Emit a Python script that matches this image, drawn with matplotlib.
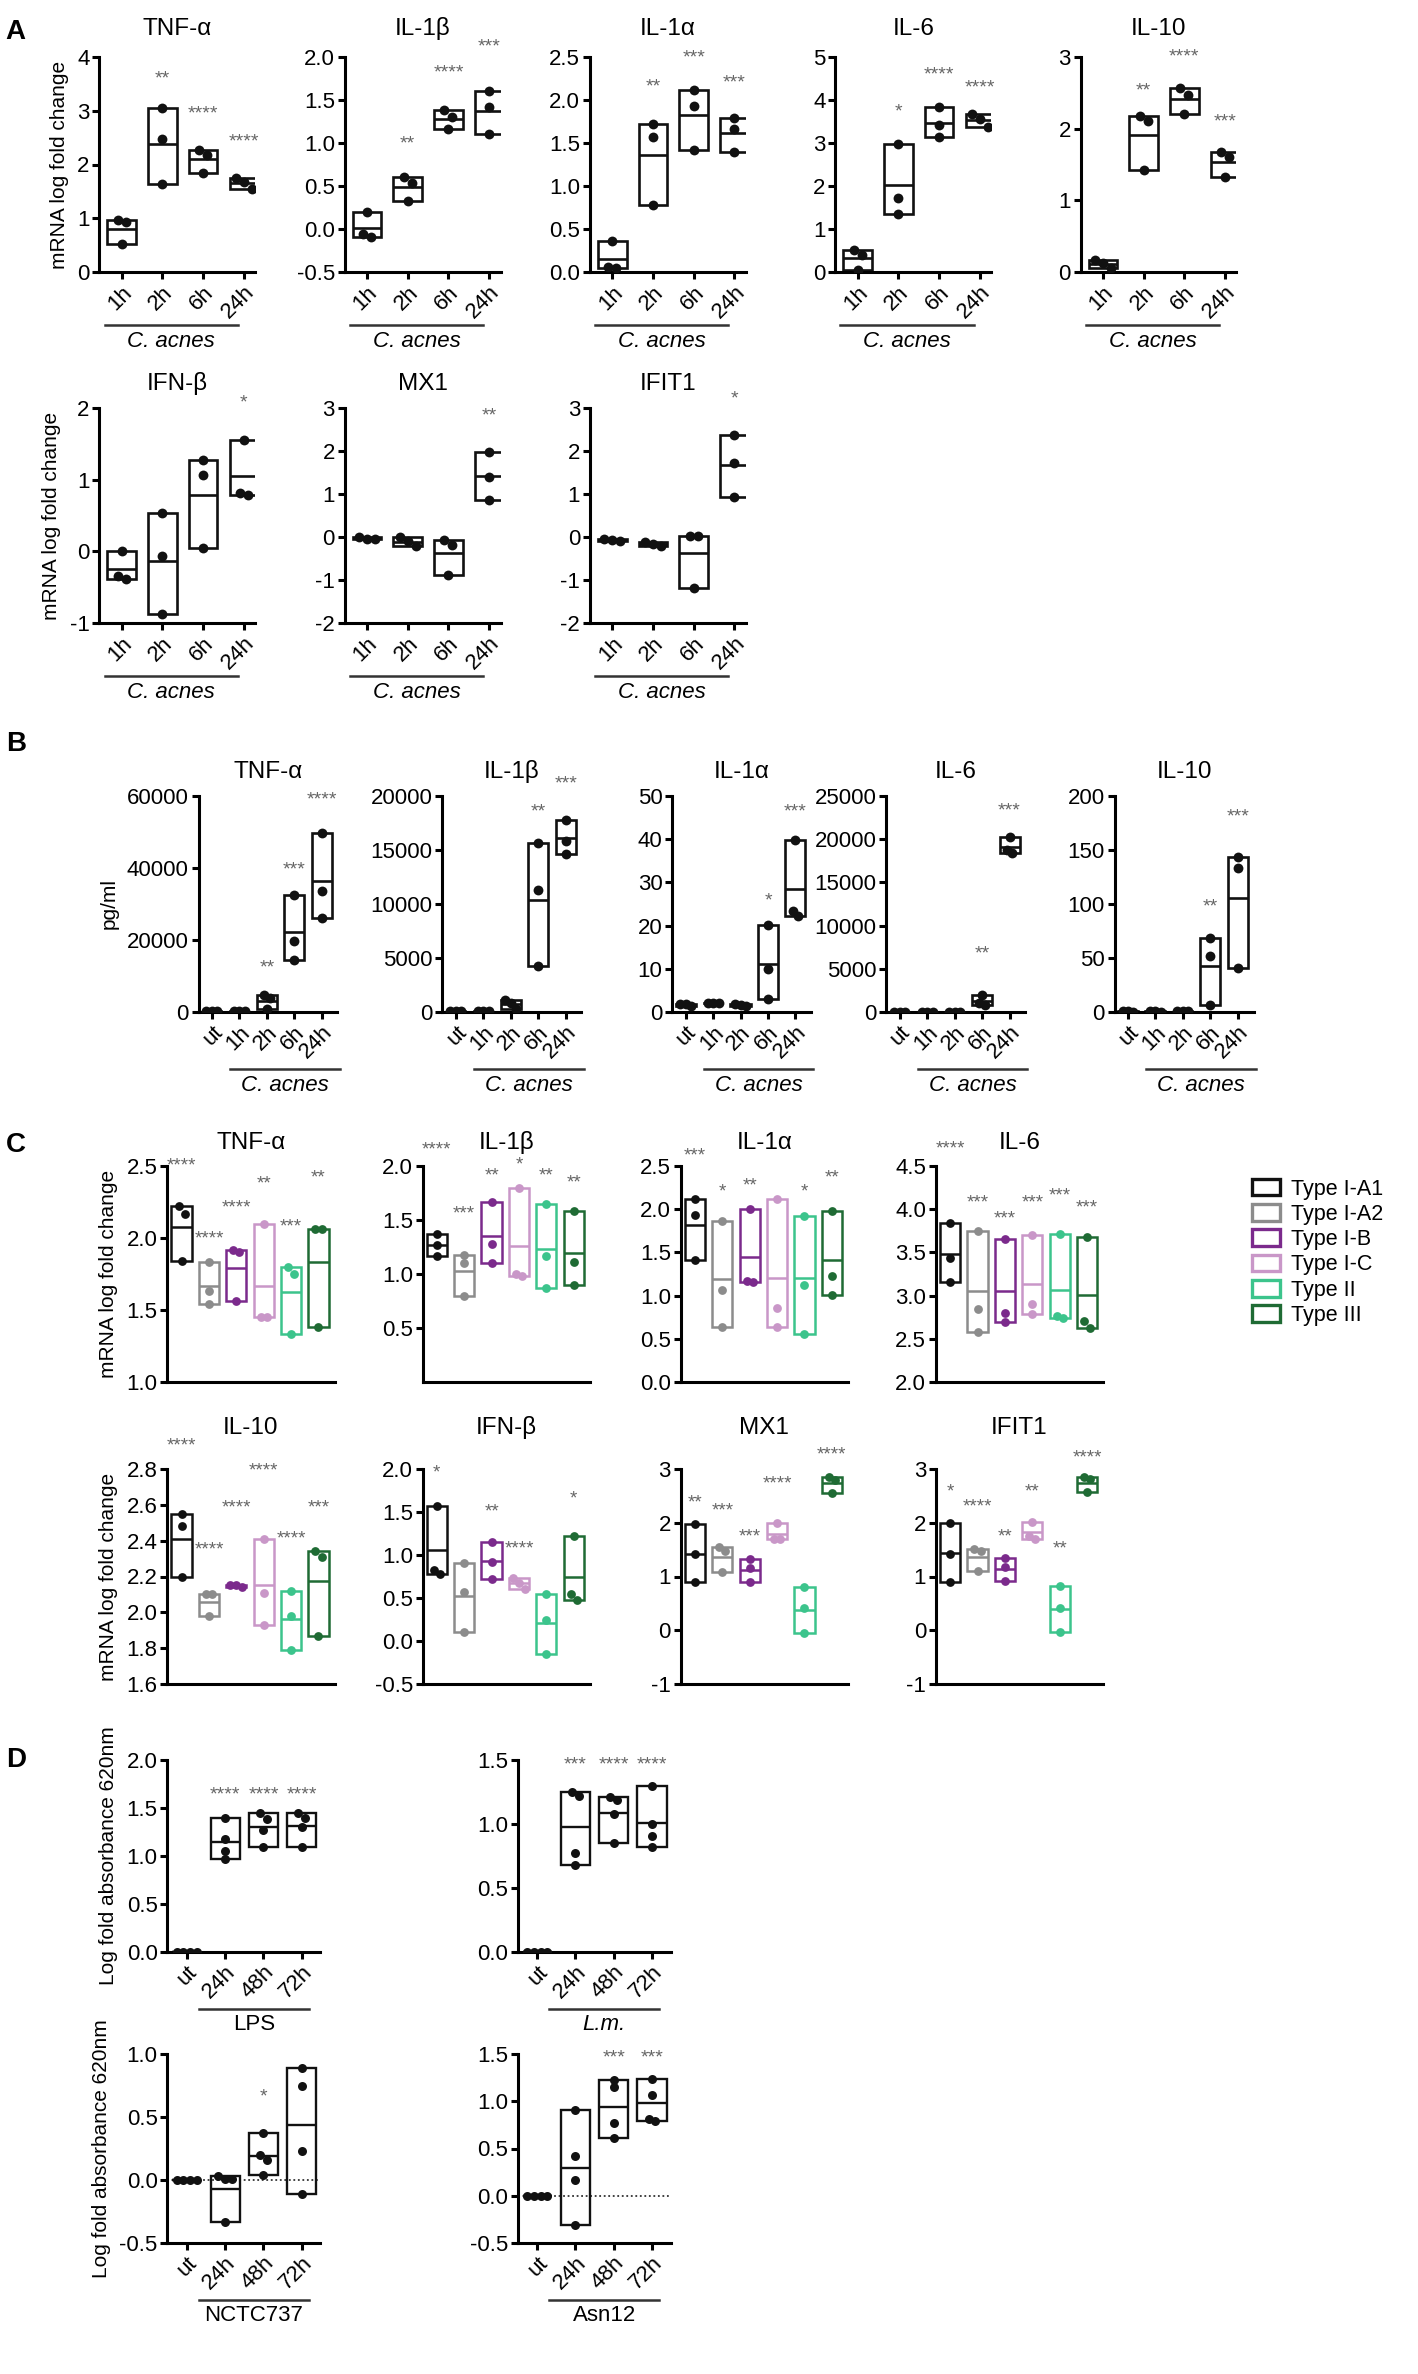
import numpy as np
import matplotlib
matplotlib.use('Agg')
import matplotlib.pyplot as plt
from matplotlib.patches import Rectangle
import matplotlib.transforms as mtrans

plt.rcParams['font.family'] = ['Liberation Sans Narrow', 'Liberation Sans', 'DejaVu Sans']

# ------------------------------------------------------------------ DATA
# Panel A : mRNA log fold change, C. acnes time course
a_times = ['1h', '2h', '6h', '24h']
a_tnf = [[0.96, 0.93, 0.52], [3.06, 2.47, 1.64], [2.27, 2.18, 1.85], [1.74, 1.68, 1.54]]
a_tnf_stars = ['', '**', '****', '****']
a_tnf_stary = [0, 3.6, 2.94, 2.41]
a_il1b = [[0.20, -0.06, -0.09], [0.60, 0.53, 0.33], [1.38, 1.30, 1.16], [1.60, 1.42, 1.10]]
a_il1b_stars = ['', '**', '****', '***']
a_il1b_stary = [0, 0.99, 1.81, 2.12]
a_il1a = [[0.36, 0.06, 0.05], [1.72, 1.57, 0.78], [2.12, 1.93, 1.42], [1.79, 1.66, 1.40]]
a_il1a_stars = ['', '**', '***', '***']
a_il1a_stary = [0, 2.15, 2.49, 2.2]
a_il6 = [[0.52, 0.39, 0.05], [2.98, 1.72, 1.34], [3.83, 3.43, 3.15], [3.67, 3.55, 3.38]]
a_il6_stars = ['', '*', '****', '****']
a_il6_stary = [0, 3.72, 4.59, 4.28]
a_il10 = [[0.17, 0.12, 0.06], [2.18, 2.11, 1.43], [2.57, 2.47, 2.20], [1.68, 1.61, 1.33]]
a_il10_stars = ['', '**', '****', '***']
a_il10_stary = [0, 2.53, 3.0, 2.1]
a_ifnb = [[0.0, -0.38, -0.35], [0.53, -0.06, -0.88], [1.27, 1.06, 0.04], [1.56, 0.81, 0.79]]
a_ifnb_stars = ['', '', '', '*']
a_ifnb_stary = [0, 0, 0, 2.07]
a_mx1 = [[0.0, -0.05, -0.04], [0.0, -0.10, -0.22], [-0.08, -0.18, -0.88], [1.97, 1.39, 0.87]]
a_mx1_stars = ['', '', '', '**']
a_mx1_stary = [0, 0, 0, 2.82]
a_ifit1 = [[-0.05, -0.08, -0.10], [-0.12, -0.17, -0.22], [0.02, 0.02, -1.18], [2.38, 1.72, 0.93]]
a_ifit1_stars = ['', '', '', '*']
a_ifit1_stary = [0, 0, 0, 3.2]

# Panel B : pg/ml
b_times = ['ut', '1h', '2h', '6h', '24h']
b_tnf = [[150, 200, 180], [200, 250, 180], [4600, 3900, 800], [32500, 19800, 14500], [49800, 33700, 26000]]
b_tnf_stars = ['', '', '**', '***', '****']
b_tnf_stary = [0, 0, 12350, 39500, 58800]
b_il1b = [[100, 80, 120], [60, 50, 70], [1100, 800, 300], [15620, 11300, 4290], [17800, 15800, 14620]]
b_il1b_stars = ['', '', '', '**', '***']
b_il1b_stary = [0, 0, 0, 18500, 21090]
b_il1a = [[1.8, 1.5, 1.8], [2.0, 2.0, 2.0], [1.8, 1.5, 1.7], [20.2, 10.0, 3.1], [39.9, 23.3, 22.2]]
b_il1a_stars = ['', '', '', '*', '***']
b_il1a_stary = [0, 0, 0, 25.7, 46.3]
b_il6 = [[30, 20, 25], [20, 30, 25], [20, 25, 30], [1930, 1040, 770], [20300, 18800, 18350]]
b_il6_stars = ['', '', '', '**', '***']
b_il6_stary = [0, 0, 0, 6760, 23260]
b_il10 = [[0.5, 0.6, 0.4], [0.5, 0.4, 0.6], [0.5, 0.5, 0.6], [68.5, 51.4, 6.9], [143.3, 133.0, 40.5]]
b_il10_stars = ['', '', '', '**', '***']
b_il10_stary = [0, 0, 0, 97.5, 180.7]

# Panel C : phylotypes
c_types = ['Type I-A1', 'Type I-A2', 'Type I-B', 'Type I-C', 'Type II', 'Type III']
c_colors = ['#111111', '#8c8c8c', '#7b2a8c', '#c997c8', '#3cc48c', '#1f6b34']
c_tnf = [[2.22, 2.17, 1.84], [1.83, 1.63, 1.545], [1.92, 1.90, 1.56], [2.10, 1.45, 1.45], [1.80, 1.75, 1.335], [2.065, 2.065, 1.38]]
c_tnf_stars = ['****', '****', '****', '**', '***', '**']
c_tnf_stary = [2.5, 1.99, 2.21, 2.375, 2.075, 2.42]
c_il1b = [[1.37, 1.27, 1.17], [1.18, 1.10, 0.80], [1.67, 1.28, 1.10], [1.80, 1.00, 0.98], [1.65, 1.17, 0.87], [1.58, 1.11, 0.90]]
c_il1b_stars = ['****', '***', '**', '*', '**', '**']
c_il1b_stary = [2.15, 1.56, 1.91, 2.01, 1.91, 1.84]
c_il1a = [[2.12, 1.93, 1.41], [1.86, 1.06, 0.64], [2.0, 1.17, 1.16], [2.12, 0.86, 0.64], [1.92, 1.12, 0.56], [1.98, 1.23, 1.01]]
c_il1a_stars = ['***', '*', '**', '', '*', '**']
c_il1a_stary = [2.62, 2.2, 2.27, 0, 2.2, 2.36]
c_il6 = [[3.84, 3.43, 3.16], [3.75, 2.84, 2.58], [3.66, 2.80, 2.69], [3.70, 2.90, 2.79], [3.71, 2.76, 2.74], [3.68, 2.71, 2.63]]
c_il6_stars = ['****', '***', '***', '***', '***', '***']
c_il6_stary = [4.70, 4.07, 3.89, 4.07, 4.15, 4.02]
c_il10 = [[2.55, 2.48, 2.20], [2.10, 2.10, 1.98], [2.15, 2.14, 2.15], [2.41, 2.11, 1.93], [2.12, 1.98, 1.79], [2.34, 2.31, 1.87]]
c_il10_stars = ['****', '****', '****', '****', '****', '***']
c_il10_stary = [2.93, 2.35, 2.58, 2.79, 2.41, 2.58]
c_ifnb = [[1.57, 0.83, 0.78], [0.91, 0.57, 0.10], [1.15, 0.92, 0.72], [0.73, 0.67, 0.61], [0.55, 0.24, -0.15], [1.22, 0.55, 0.48]]
c_ifnb_stars = ['*', '', '**', '****', '', '*']
c_ifnb_stary = [1.95, 0, 1.5, 1.07, 0, 1.65]
c_mx1 = [[1.98, 1.41, 0.89], [1.54, 1.47, 1.08], [1.33, 1.16, 0.89], [2.0, 1.70, 1.69], [0.80, 0.41, -0.06], [2.86, 2.80, 2.56]]
c_mx1_stars = ['**', '***', '***', '****', '', '****']
c_mx1_stary = [2.36, 2.21, 1.73, 2.72, 0, 3.26]
c_ifit1 = [[1.99, 1.41, 0.89], [1.52, 1.48, 1.11], [1.34, 1.17, 0.92], [2.01, 1.76, 1.70], [0.82, 0.42, -0.03], [2.85, 2.82, 2.57]]
c_ifit1_stars = ['*', '****', '**', '**', '**', '****']
c_ifit1_stary = [2.58, 2.29, 1.74, 2.58, 1.52, 3.2]

# Panel D : log fold absorbance 620nm
d_times = ['ut', '24h', '48h', '72h']
d_lps = [[0, 0, 0, 0], [1.40, 1.18, 1.05, 0.97], [1.45, 1.39, 1.27, 1.09], [1.45, 1.40, 1.30, 1.09]]
d_lps_stars = ['', '****', '****', '****']
d_lps_stary = [0, 1.64, 1.64, 1.64]
d_lm = [[0, 0, 0, 0], [1.25, 1.22, 0.77, 0.68], [1.21, 1.19, 1.08, 0.855], [1.30, 1.00, 0.91, 0.82]]
d_lm_stars = ['', '***', '****', '****']
d_lm_stary = [0, 1.46, 1.46, 1.46]
d_nctc = [[0, 0, 0, 0], [0.01, 0.01, 0.03, -0.33], [0.37, 0.20, 0.16, 0.04], [0.89, 0.75, 0.23, -0.11]]
d_nctc_stars = ['', '', '*', '']
d_nctc_stary = [0, 0, 0.66, 0]
d_asn = [[0, 0, 0, 0], [0.905, 0.42, 0.165, -0.31], [1.23, 1.15, 0.77, 0.61], [1.24, 1.07, 0.81, 0.79]]
d_asn_stars = ['', '', '***', '***']
d_asn_stary = [0, 0, 1.46, 1.46]

# ------------------------------------------------------------------ HELPERS
W, H = 14.18, 23.74
fig = plt.figure(figsize=(W, H), dpi=100)
STAR_C = '#666666'
TICK_FS = 16
TITLE_FS = 17.5
YLAB_FS = 15
REG = ['Liberation Sans', 'DejaVu Sans']


def spread(vals, thr, step):
    vals = np.asarray(vals, float)
    order = np.argsort(-vals)
    offs = np.zeros(len(vals))
    groups, cur = [], [order[0]]
    for a, b in zip(order[:-1], order[1:]):
        if abs(vals[a] - vals[b]) < thr:
            cur.append(b)
        else:
            groups.append(cur)
            cur = [b]
    groups.append(cur)
    for g in groups:
        m = len(g)
        for k, idx in enumerate(g):
            offs[idx] = (k - (m - 1) / 2) * step
    return offs


def style_axes(ax, ylim, yticks, yticklabels, xlim):
    ax.set_ylim(*ylim)
    ax.set_xlim(*xlim)
    for s in ['top', 'right']:
        ax.spines[s].set_visible(False)
    for s in ['left', 'bottom']:
        ax.spines[s].set_linewidth(2.2)
    ax.set_yticks(yticks)
    ax.set_yticklabels(yticklabels, fontsize=TICK_FS)
    ax.tick_params(axis='both', width=2.2, length=5, direction='out', pad=2)
    ax.patch.set_visible(False)


def floatbars(ax, groups, colors, width, ms, lw=1.9, step=0.2):
    yr = ax.get_ylim()
    thr = 0.035 * (yr[1] - yr[0])
    for i, (pts, c) in enumerate(zip(groups, colors)):
        lo, hi, m = min(pts), max(pts), float(np.mean(pts))
        ax.add_patch(Rectangle((i - width / 2, lo), width, hi - lo, fill=False,
                               edgecolor=c, linewidth=lw, zorder=2))
        ax.plot([i - width / 2, i + width / 2], [m, m], color=c, lw=lw, zorder=2,
                solid_capstyle='butt')
        offs = spread(pts, thr, step)
        ax.scatter(i + offs, pts, s=ms, color=c, zorder=3, linewidths=0)


def stars(ax, labels, ys, fs=14):
    for i, (s, y) in enumerate(zip(labels, ys)):
        if s:
            ax.text(i, y, s, ha='center', va='center', fontsize=fs, color=STAR_C,
                    clip_on=False)


def underline(ax, x0, x1, dy_line, dy_text, label, italic=True):
    tr = ax.get_xaxis_transform()
    tl = mtrans.offset_copy(tr, fig=fig, y=-dy_line, units='points')
    tt = mtrans.offset_copy(tr, fig=fig, y=-dy_text, units='points')
    ax.plot([x0, x1], [0, 0], transform=tl, color='#333333', lw=1.8, clip_on=False)
    ax.text((x0 + x1) / 2, 0, label, transform=tt, ha='center', va='center',
            fontsize=16, style='italic' if italic else 'normal', clip_on=False)


def xlabels(ax, labels):
    ax.set_xticks(range(len(labels)))
    ax.set_xticklabels(labels, rotation=45, ha='right', rotation_mode='anchor',
                       fontsize=TICK_FS)


def fmt(ticks, nd):
    return [('{:.%df}' % nd).format(t) for t in ticks]


def fy(top_px, bot_px):
    return 1 - bot_px / 2374.0, (bot_px - top_px) / 2374.0


# ------------------------------------------------------------------ PANEL A
a_lefts = [0.070, 0.243, 0.416, 0.589, 0.762]
a_w = 0.110
row1 = fy(57, 272)
row2 = fy(408, 623)

a_row1 = [
    ('TNF-α', a_tnf, a_tnf_stars, a_tnf_stary, (0, 4), [0, 1, 2, 3, 4], 0),
    ('IL-1β', a_il1b, a_il1b_stars, a_il1b_stary, (-0.5, 2.0), [-0.5, 0, 0.5, 1.0, 1.5, 2.0], 1),
    ('IL-1α', a_il1a, a_il1a_stars, a_il1a_stary, (0, 2.5), [0, 0.5, 1.0, 1.5, 2.0, 2.5], 1),
    ('IL-6', a_il6, a_il6_stars, a_il6_stary, (0, 5), [0, 1, 2, 3, 4, 5], 0),
    ('IL-10', a_il10, a_il10_stars, a_il10_stary, (0, 3), [0, 1, 2, 3], 0),
]
a_row2 = [
    ('IFN-β', a_ifnb, a_ifnb_stars, a_ifnb_stary, (-1, 2), [-1, 0, 1, 2], 0),
    ('MX1', a_mx1, a_mx1_stars, a_mx1_stary, (-2, 3), [-2, -1, 0, 1, 2, 3], 0),
    ('IFIT1', a_ifit1, a_ifit1_stars, a_ifit1_stary, (-2, 3), [-2, -1, 0, 1, 2, 3], 0),
]
for rowdef, (bot, h), tpad in [(a_row1, row1, 16), (a_row2, row2, 13)]:
    for j, (title, data, st, sty, ylim, yt, nd) in enumerate(rowdef):
        ax = fig.add_axes([a_lefts[j], bot, a_w, h])
        style_axes(ax, ylim, yt, fmt(yt, nd), (-0.55, 3.28))
        floatbars(ax, data, ['#111111'] * 4, 0.7, 50)
        stars(ax, st, sty)
        xlabels(ax, a_times)
        ax.set_title(title, fontsize=TITLE_FS, pad=tpad)
        underline(ax, -0.42, 2.85, 38, 50, 'C. acnes')
        if j == 0:
            ax.set_ylabel('mRNA log fold change', fontsize=YLAB_FS, family=REG, labelpad=6)

# ------------------------------------------------------------------ PANEL B
b_lefts = [0.140, 0.312, 0.474, 0.625, 0.786]
b_w = 0.098
brow = fy(796, 1012)
b_defs = [
    ('TNF-α', b_tnf, b_tnf_stars, b_tnf_stary, (0, 60000), [0, 20000, 40000, 60000]),
    ('IL-1β', b_il1b, b_il1b_stars, b_il1b_stary, (0, 20000), [0, 5000, 10000, 15000, 20000]),
    ('IL-1α', b_il1a, b_il1a_stars, b_il1a_stary, (0, 50), [0, 10, 20, 30, 40, 50]),
    ('IL-6', b_il6, b_il6_stars, b_il6_stary, (0, 25000), [0, 5000, 10000, 15000, 20000, 25000]),
    ('IL-10', b_il10, b_il10_stars, b_il10_stary, (0, 200), [0, 50, 100, 150, 200]),
]
for j, (title, data, st, sty, ylim, yt) in enumerate(b_defs):
    ax = fig.add_axes([b_lefts[j], brow[0], b_w, brow[1]])
    style_axes(ax, ylim, yt, [str(t) for t in yt], (-0.49, 4.57))
    floatbars(ax, data, ['#111111'] * 5, 0.73, 50)
    stars(ax, st, sty)
    xlabels(ax, b_times)
    ax.set_title(title, fontsize=TITLE_FS, pad=13)
    underline(ax, 0.67, 4.65, 41, 53, 'C. acnes')
    if j == 0:
        ax.set_ylabel('pg/ml', fontsize=YLAB_FS, family=REG, labelpad=6)

# ------------------------------------------------------------------ PANEL C
c_lefts = [0.118, 0.298, 0.480, 0.660]
c_w = 0.118
crow1 = fy(1166, 1382)
crow2 = fy(1469, 1684)
c_row1 = [
    ('TNF-α', c_tnf, c_tnf_stars, c_tnf_stary, (1.0, 2.5), [1.0, 1.5, 2.0, 2.5], 1),
    ('IL-1β', c_il1b, c_il1b_stars, c_il1b_stary, (0, 2.0), [0.5, 1.0, 1.5, 2.0], 1),
    ('IL-1α', c_il1a, c_il1a_stars, c_il1a_stary, (0, 2.5), [0, 0.5, 1.0, 1.5, 2.0, 2.5], 1),
    ('IL-6', c_il6, c_il6_stars, c_il6_stary, (2.0, 4.5), [2.0, 2.5, 3.0, 3.5, 4.0, 4.5], 1),
]
c_row2 = [
    ('IL-10', c_il10, c_il10_stars, c_il10_stary, (1.6, 2.8), [1.6, 1.8, 2.0, 2.2, 2.4, 2.6, 2.8], 1),
    ('IFN-β', c_ifnb, c_ifnb_stars, c_ifnb_stary, (-0.5, 2.0), [-0.5, 0.0, 0.5, 1.0, 1.5, 2.0], 1),
    ('MX1', c_mx1, c_mx1_stars, c_mx1_stary, (-1, 3), [-1, 0, 1, 2, 3], 0),
    ('IFIT1', c_ifit1, c_ifit1_stars, c_ifit1_stary, (-1, 3), [-1, 0, 1, 2, 3], 0),
]
for rowdef, (bot, h), tpad in [(c_row1, crow1, 12), (c_row2, crow2, 25)]:
    for j, (title, data, st, sty, ylim, yt, nd) in enumerate(rowdef):
        ax = fig.add_axes([c_lefts[j], bot, c_w, h])
        style_axes(ax, ylim, yt, fmt(yt, nd), (-0.52, 5.59))
        ax.set_xticks([])
        floatbars(ax, data, c_colors, 0.74, 40, lw=1.8, step=0.22)
        stars(ax, st, sty, fs=13.5)
        ax.set_title(title, fontsize=TITLE_FS, pad=tpad)
        if j == 0:
            ax.set_ylabel('mRNA log fold change', fontsize=YLAB_FS, family=REG, labelpad=6)

handles = [Rectangle((0, 0), 1, 1, facecolor='white', edgecolor=c, linewidth=2.4)
           for c in c_colors]
fig.legend(handles, c_types, loc='upper left', bbox_to_anchor=(0.874, 0.509),
           frameon=False, fontsize=15.5, handlelength=1.3, handleheight=0.8,
           labelspacing=0.2, handletextpad=0.5, borderaxespad=0.2)

# ------------------------------------------------------------------ PANEL D
d_lefts = [0.118, 0.365]
d_w = 0.108
drow1 = fy(1760, 1952)
drow2 = fy(2054, 2243)
d_row1 = [
    (d_lps, d_lps_stars, d_lps_stary, (0, 2.0), [0.0, 0.5, 1.0, 1.5, 2.0], 'LPS', False),
    (d_lm, d_lm_stars, d_lm_stary, (0, 1.5), [0.0, 0.5, 1.0, 1.5], 'L.m.', True),
]
d_row2 = [
    (d_nctc, d_nctc_stars, d_nctc_stary, (-0.5, 1.0), [-0.5, 0.0, 0.5, 1.0], 'NCTC737', False),
    (d_asn, d_asn_stars, d_asn_stary, (-0.5, 1.5), [-0.5, 0.0, 0.5, 1.0, 1.5], 'Asn12', False),
]
for r, (rowdef, (bot, h)) in enumerate([(d_row1, drow1), (d_row2, drow2)]):
    for j, (data, st, sty, ylim, yt, lab, it) in enumerate(rowdef):
        ax = fig.add_axes([d_lefts[j], bot, d_w, h])
        style_axes(ax, ylim, yt, fmt(yt, 1), (-0.51, 3.49))
        if r == 1:
            ax.axhline(0, color='#333333', lw=1.3, ls=(0, (1, 1.5)), zorder=1)
        floatbars(ax, data, ['#111111'] * 4, 0.76, 42, lw=1.7, step=0.18)
        stars(ax, st, sty)
        xlabels(ax, d_times)
        underline(ax, 0.32, 3.19, 41, 52, lab, italic=it)
        if j == 0:
            ax.set_ylabel('Log fold absorbance 620nm', fontsize=YLAB_FS, family=REG,
                          labelpad=6)

# ------------------------------------------------------------------ panel letters
for letter, y in [('A', 0.992), ('B', 0.692), ('C', 0.523), ('D', 0.264)]:
    fig.text(0.004, y, letter, fontsize=20, fontweight='bold', va='top', family=REG)

fig.savefig('out.png', dpi=100)
